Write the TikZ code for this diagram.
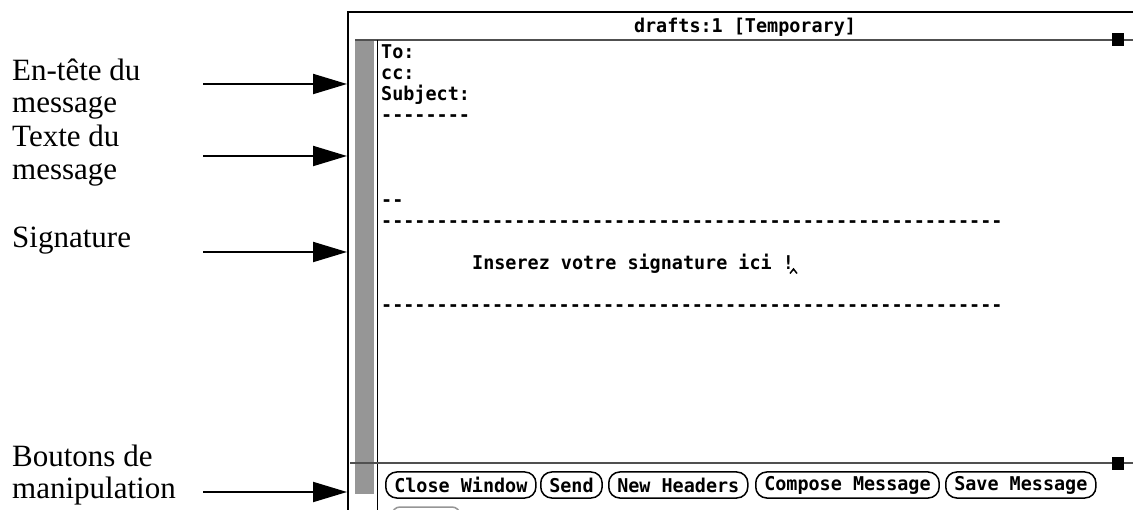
\documentclass[tikz,border=0pt]{standalone}
\usepackage{fontspec}
\setmainfont{Liberation Serif}
\newfontfamily\monofnt[FakeStretch=0.97]{DejaVu Sans Mono}
\usetikzlibrary{arrows.meta}
\definecolor{stip}{RGB}{150,150,150}
\definecolor{rule}{RGB}{80,80,80}
\definecolor{thin}{RGB}{96,96,96}
\tikzset{
  lbl/.style={font=\fontsize{31}{32}\selectfont, anchor=base west, inner sep=0pt},
  scr/.style={font=\monofnt\bfseries\fontsize{19}{21}\selectfont, anchor=base west, inner sep=0pt},
  btn/.style={scr, draw, line width=1.5pt, rounded corners=11pt, minimum height=26pt,
              inner xsep=8.5pt, inner ysep=0pt, anchor=west},
  arr/.style={line width=2pt, -{Triangle[length=34pt,width=20pt]}},
  winline/.style={line width=2pt, black},
  grayrule/.style={line width=2pt, rule}
}
\begin{document}
\begin{tikzpicture}[x=1pt,y=-1pt]
\useasboundingbox (0,0) rectangle (1133,510);
\clip (0,0) rectangle (1133,510);
\fill[white] (0,0) rectangle (1133,510);

% window frame
\draw[winline] (348,510) -- (348,12) -- (1133,12);
\node[scr, anchor=base] (title) at (745,33) {drafts:1 [Temporary]};
\fill[stip] (355,40) rectangle (374,494);
\draw[grayrule] (355,40) -- (1133,40);
\fill[black] (1112,33) rectangle (1124,46);
\draw[line width=1.2pt, thin] (377,40) -- (377,510);
\draw[grayrule] (350,463) -- (1133,463);
\fill[black] (1112,457) rectangle (1124,470);

% message text
\node[scr] (to) at (381,58.5) {To:};
\node[scr] (cc) at (381,79.6) {cc:};
\node[scr] (subj) at (381,100.7) {Subject:};
\node[scr] (sep) at (381,121.8) {--------};
\node[scr] (sigsep) at (381,206.2) {--};
\node[scr] (dashA) at (381,227.3) {--------------------------------------------------------};
\node[scr] (sig) at (472,269.5) {Inserez votre signature ici !};
\draw[line width=1.5pt] (790,273.5) -- (793.5,269) -- (797,273.5);
\node[scr] (dashB) at (381,311.7) {--------------------------------------------------------};

% buttons
\node[btn] (b1) at (385,485) {Close Window};
\node[btn] (b2) at (540,485) {Send};
\node[btn] (b3) at (608,485) {New Headers};
\node[btn] (b4) at (755,485) {Compose Message};
\node[btn] (b5) at (945,485) {Save Message};
\draw[line width=1.5pt, stip, rounded corners=8pt] (392,507) rectangle (460,530);

% labels
\node[lbl] (hdrA) at (12,81) {En-tête du};
\node[lbl] (hdrB) at (12,113) {message};
\node[lbl] (txtA) at (12,147) {Texte du};
\node[lbl] (txtB) at (12,180) {message};
\node[lbl] (sigl) at (12,248) {Signature};
\node[lbl] (btnA) at (12,467) {Boutons de};
\node[lbl] (btnB) at (12,498) {manipulation};

% arrows
\coordinate (a1s) at (203,84);  \coordinate (a1e) at (347,84);
\coordinate (a2s) at (203,156); \coordinate (a2e) at (347,156);
\coordinate (a3s) at (203,252); \coordinate (a3e) at (347,252);
\coordinate (a4s) at (203,492); \coordinate (a4e) at (347,492);
\draw[arr] (a1s) -- (a1e);
\draw[arr] (a2s) -- (a2e);
\draw[arr] (a3s) -- (a3e);
\draw[arr] (a4s) -- (a4e);
\end{tikzpicture}
\end{document}
